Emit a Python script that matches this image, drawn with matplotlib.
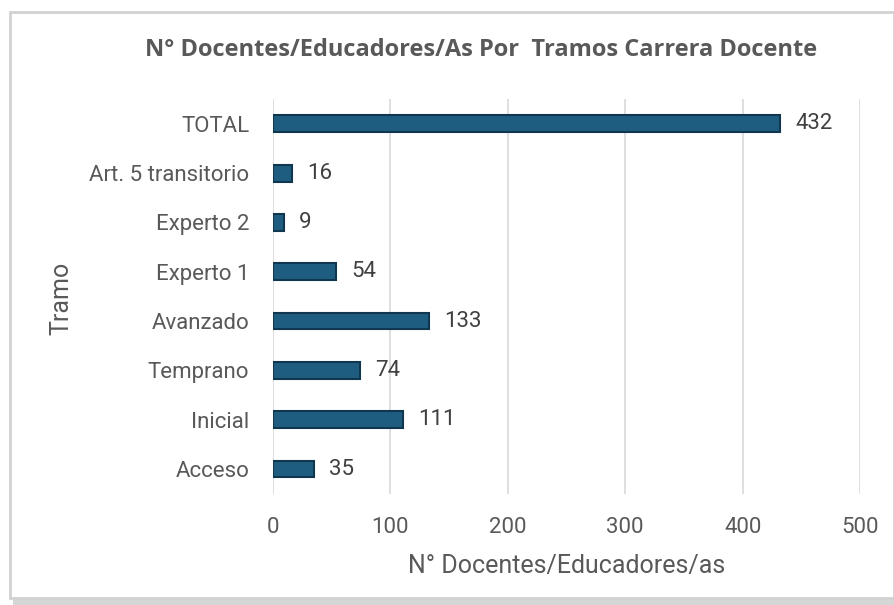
import matplotlib.pyplot as plt
from matplotlib.patches import Rectangle

# datos del gráfico
tramos = ["Acceso", "Inicial", "Temprano", "Avanzado", "Experto 1",
          "Experto 2", "Art. 5 transitorio", "TOTAL"]
docentes = [35, 111, 74, 133, 54, 9, 16, 432]
ticks_x = [0, 100, 200, 300, 400, 500]

gris = "#595959"
azul = "#1f5d80"
fuente = "Roboto"

fig = plt.figure(figsize=(8.94, 6.05), dpi=100)
fig.patch.set_facecolor("white")

# marco con sombra
sombra = Rectangle((0.014, 0.0), 0.986, 0.975, transform=fig.transFigure,
                   facecolor="#d6d6d6", edgecolor="none", zorder=0)
marco = Rectangle((0.011, 0.012), 0.989, 0.968, transform=fig.transFigure,
                  facecolor="white", edgecolor="#d2d2d2", linewidth=2, zorder=1)
fig.patches.extend([sombra, marco])

ax = fig.add_axes([0.3054, 0.184, 0.6566, 0.652])
ax.set_facecolor("none")
ax.set_zorder(2)

y = range(len(tramos))
ax.barh(y, docentes, height=0.34, color=azul, edgecolor="#0f3850",
        linewidth=1.5, zorder=3)

for yi, v in zip(y, docentes):
    ax.text(v + 13, yi, str(v), va="center", ha="left", fontsize=16,
            color="#404040", family=fuente, zorder=5)

ax.set_xlim(0, 500)
ax.set_ylim(-0.5, 7.5)
ax.set_xticks(ticks_x)
ax.set_yticks(list(y))
ax.set_yticklabels(tramos)
ax.grid(axis="x", color="#d9d9d9", linewidth=1.2, zorder=0)
ax.set_axisbelow(True)
for s in ax.spines.values():
    s.set_visible(False)
ax.tick_params(axis="both", length=0, labelsize=16, labelcolor=gris)
ax.tick_params(axis="y", pad=17)
ax.tick_params(axis="x", pad=17)
for lab in ax.get_xticklabels() + ax.get_yticklabels():
    lab.set_family(fuente)

ax.set_xlabel("N° Docentes/Educadores/as", fontsize=18, color=gris,
              family=fuente, labelpad=11)
fig.text(0.069, 0.507, "Tramo", rotation=90, ha="center", va="center",
         fontsize=18, color=gris, family=fuente)

fig.text(0.538, 0.918, "N° Docentes/Educadores/As Por  Tramos Carrera Docente",
         ha="center", va="center", fontsize=17, fontweight="bold",
         color=gris, family="Open Sans")

fig.savefig("out.png", dpi=100)
